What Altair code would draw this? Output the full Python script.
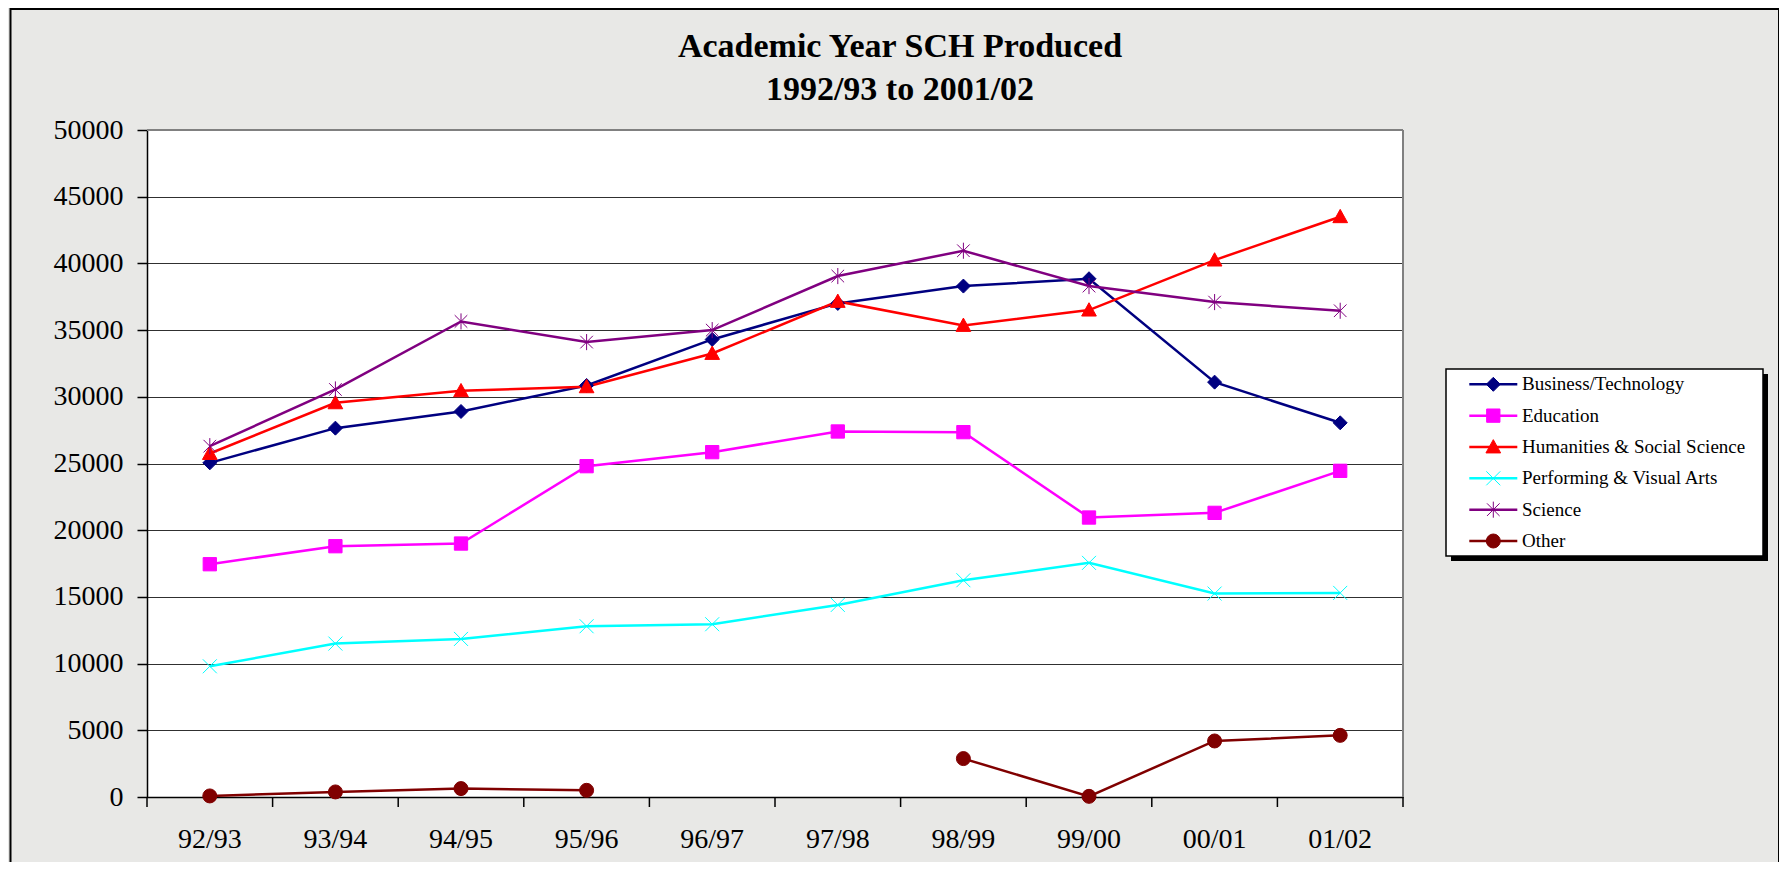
import altair as alt
import pandas as pd

years = ["92/93", "93/94", "94/95", "95/96", "96/97", "97/98", "98/99", "99/00", "00/01", "01/02"]
series_names = ["Business/Technology", "Education", "Humanities & Social Science",
                "Performing & Visual Arts", "Science", "Other"]

business = [25050, 27650, 28900, 30850, 34300, 37000, 38300, 38850, 31100, 28050]
education = [17450, 18800, 19000, 24800, 25850, 27400, 27350, 20950, 21300, 24450]
humanities = [25750, 29550, 30450, 30750, 33250, 37150, 35350, 36500, 40250, 43500]
performing = [9800, 11500, 11850, 12800, 12950, 14400, 16250, 17550, 15250, 15300]
science = [26300, 30550, 35650, 34100, 35000, 39050, 40950, 38300, 37100, 36450]
other = [80, 380, 630, 500, None, None, 2880, 50, 4200, 4620]

y_ticks = [0, 5000, 10000, 15000, 20000, 25000, 30000, 35000, 40000, 45000, 50000]
title_lines = ["Academic Year SCH Produced", "1992/93 to 2001/02"]

colors = ["#000080", "#FF00FF", "#FF0000", "#00FFFF", "#800080", "#800000"]
shapes = [
    "M0,-1L1,0L0,1L-1,0Z",
    "M-0.95,-0.95H0.95V0.95H-0.95Z",
    "M0,-1.05L1.05,0.85L-1.05,0.85Z",
    "M-1,-1L1,1M-1,1L1,-1",
    "M-0.9,-0.9L0.9,0.9M-0.9,0.9L0.9,-0.9M0,-1.15L0,1.15",
    "circle",
]
stroke_widths = [1, 1, 1, 2.4, 2.2, 1]

all_vals = [business, education, humanities, performing, science, other]
rows = []
for name, vals in zip(series_names, all_vals):
    seg = 0
    prev = False
    for yr, v in zip(years, vals):
        if v is None:
            if prev:
                seg += 1
            prev = False
            continue
        rows.append({"year": yr, "series": name, "value": v, "segment": f"{name}-{seg}"})
        prev = True
df = pd.DataFrame(rows)
tick_df = pd.DataFrame({"year": years})
one = pd.DataFrame({"k": [0]})
leg_df = pd.DataFrame({"series": series_names})
t1_df = pd.DataFrame({"t": [title_lines[0]]})
t2_df = pd.DataFrame({"t": [title_lines[1]]})

W, H = 1256, 667
FONT = "Liberation Serif"

xscale = alt.Scale(type="band", domain=years, paddingInner=0, paddingOuter=0)
yscale = alt.Scale(domain=[0, 50000], nice=False)
cscale = alt.Scale(domain=series_names, range=colors)
shscale = alt.Scale(domain=series_names, range=shapes)
swscale = alt.Scale(domain=series_names, range=stroke_widths)

xenc = alt.X("year:N", scale=xscale, sort=years,
             axis=alt.Axis(title=None, ticks=False, labelFont=FONT, labelFontSize=28,
                           labelColor="black", labelPadding=50, labelBaseline="alphabetic",
                           labelAngle=0, domainColor="black", domainWidth=1.5, grid=False))
yenc = alt.Y("value:Q", scale=yscale,
             axis=alt.Axis(title=None, values=y_ticks, format="d", labelFont=FONT,
                           labelFontSize=28, labelColor="black", tickSize=10,
                           tickColor="black", tickWidth=1.5, labelPadding=14,
                           domainColor="black", domainWidth=1.5, grid=True,
                           gridColor="#303030", gridWidth=1))

frame = alt.Chart(one).mark_rect(fillOpacity=0, stroke="black", strokeWidth=2).encode(
    x=alt.value(-136.5), x2=alt.value(1632), y=alt.value(-121), y2=alt.value(760))
top_border = alt.Chart(one).mark_rule(color="#808080", strokeWidth=2).encode(
    x=alt.value(0), x2=alt.value(W), y=alt.value(0))
right_border = alt.Chart(one).mark_rule(color="#808080", strokeWidth=2).encode(
    x=alt.value(W), y=alt.value(0), y2=alt.value(H))

title1 = alt.Chart(t1_df).mark_text(font=FONT, fontSize=34, fontWeight="bold", color="black",
                                     align="center", baseline="alphabetic").encode(
    x=alt.value(753), y=alt.value(-73), text="t:N")
title2 = alt.Chart(t2_df).mark_text(font=FONT, fontSize=34, fontWeight="bold", color="black",
                                     align="center", baseline="alphabetic").encode(
    x=alt.value(753), y=alt.value(-30), text="t:N")

lines = alt.Chart(df).mark_line(strokeWidth=2.5).encode(
    x=xenc, y=yenc,
    color=alt.Color("series:N", scale=cscale, legend=None),
    detail="segment:N")
points = alt.Chart(df).mark_point(filled=True, size=196, opacity=1).encode(
    x=alt.X("year:N", scale=xscale, sort=years),
    y=alt.Y("value:Q", scale=yscale),
    color=alt.Color("series:N", scale=cscale, legend=None),
    stroke=alt.Stroke("series:N", scale=cscale, legend=None),
    shape=alt.Shape("series:N", scale=shscale, legend=None),
    strokeWidth=alt.StrokeWidth("series:N", scale=swscale, legend=None))
xticks = alt.Chart(tick_df).mark_rule(color="black", strokeWidth=1.5).encode(
    x=alt.X("year:N", scale=xscale, sort=years, bandPosition=0),
    y=alt.value(H), y2=alt.value(H + 10))
last_tick = alt.Chart(one).mark_rule(color="black", strokeWidth=1.5).encode(
    x=alt.value(W), y=alt.value(H), y2=alt.value(H + 10))

main = alt.layer(frame, title1, title2, lines, points, top_border, right_border,
                 xticks, last_tick)

ly = alt.Y("series:N", scale=alt.Scale(type="point", domain=series_names,
                                       range=[254.3, 411], padding=0), axis=None)
shadow = alt.Chart(one).mark_rect(color="black").encode(
    x=alt.value(1304), x2=alt.value(1621), y=alt.value(244), y2=alt.value(431))
box = alt.Chart(one).mark_rect(fill="white", stroke="black", strokeWidth=1.5).encode(
    x=alt.value(1299), x2=alt.value(1616), y=alt.value(239), y2=alt.value(426))
leg_lines = alt.Chart(leg_df).mark_rule(strokeWidth=2.5).encode(
    x=alt.value(1322.3), x2=alt.value(1370.3), y=ly,
    color=alt.Color("series:N", scale=cscale, legend=None))
leg_points = alt.Chart(leg_df).mark_point(filled=True, size=196, opacity=1).encode(
    x=alt.value(1346.3), y=ly,
    color=alt.Color("series:N", scale=cscale, legend=None),
    stroke=alt.Stroke("series:N", scale=cscale, legend=None),
    shape=alt.Shape("series:N", scale=shscale, legend=None),
    strokeWidth=alt.StrokeWidth("series:N", scale=swscale, legend=None))
leg_text = alt.Chart(leg_df).mark_text(align="left", baseline="middle", font=FONT,
                                       fontSize=19, color="black").encode(
    x=alt.value(1375), y=ly, text="series:N")
legend = alt.layer(shadow, box, leg_lines, leg_points, leg_text)

chart = alt.layer(main, legend).resolve_scale(y="independent").properties(
    width=W, height=H,
    autosize=alt.AutoSizeParams(type="none"),
    padding={"left": 139, "top": 122, "right": 376, "bottom": 65},
    background="#e8e8e6",
).configure_view(fill="white", strokeWidth=0)

chart.save("out.html", embed_options={"renderer": "svg", "actions": False})
